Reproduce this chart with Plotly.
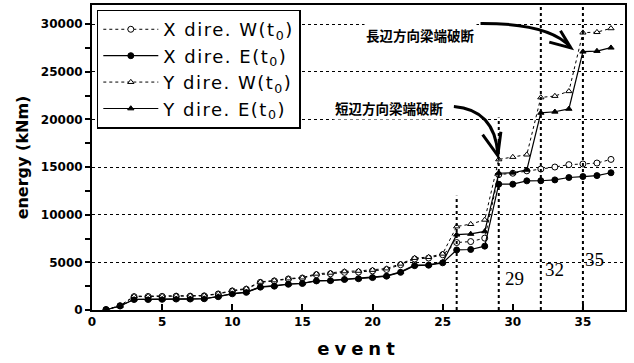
import plotly.graph_objects as go

events = list(range(1, 38))

x_dire_W = [50, 450, 1400, 1420, 1430, 1450, 1450, 1480, 1680, 2000, 2180, 2900, 3050, 3250, 3350,
            3700, 3800, 3950, 3980, 4100, 4250, 4750, 5350, 5450, 5800, 7080, 7180, 7540,
            14200, 14350, 14600, 14790, 15000, 15250, 15320, 15420, 15800]
x_dire_E = [30, 420, 1100, 1100, 1120, 1150, 1150, 1180, 1400, 1700, 1850, 2400, 2500, 2700, 2780,
            3050, 3080, 3200, 3280, 3400, 3550, 3950, 4650, 4700, 4950, 6300, 6350, 6700,
            13200, 13200, 13550, 13560, 13650, 13900, 14000, 14100, 14400]
y_dire_W = [50, 450, 1450, 1450, 1470, 1500, 1500, 1520, 1720, 2050, 2250, 2950, 3100, 3300, 3400,
            3800, 3900, 4050, 4100, 4200, 4350, 4850, 5450, 5550, 5900, 8760, 9010, 9460,
            15800, 16050, 16300, 22300, 22450, 22950, 29100, 29150, 29550]
y_dire_E = [30, 420, 1120, 1130, 1140, 1170, 1170, 1200, 1420, 1720, 1870, 2430, 2550, 2730, 2800,
            3080, 3100, 3230, 3300, 3420, 3580, 4000, 4700, 4750, 5000, 7900, 7980, 8250,
            14350, 14400, 14700, 20680, 20800, 21100, 27100, 27170, 27520]

series_names = ["X dire. W(t<sub>0</sub>)", "X dire. E(t<sub>0</sub>)",
                "Y dire. W(t<sub>0</sub>)", "Y dire. E(t<sub>0</sub>)"]

y_ticks = [0, 5000, 10000, 15000, 20000, 25000, 30000]
y_tick_text = ["0", "5000", "10000", "15000", "20000", "25000", "30000"]
x_ticks = [0, 5, 10, 15, 20, 25, 30, 35]

event_lines = [26, 29, 32, 35]
event_line_tops = [12000, 20200, 32000, 32000]
event_labels = ["29", "32", "35"]
event_label_pos = [(30.15, 3300), (33.0, 4200), (35.85, 5250)]

notes = ["長辺方向梁端破断", "短辺方向梁端破断"]
note_pos = [(23.4, 28900), (21.2, 21200)]

fig = go.Figure()

styles = [
    dict(dash="dot", width=1, symbol="circle", fill="white", size=6),
    dict(dash="solid", width=1.2, symbol="circle", fill="black", size=6),
    dict(dash="dot", width=1, symbol="triangle-up", fill="white", size=5.5),
    dict(dash="solid", width=1.2, symbol="triangle-up", fill="black", size=5.5),
]
data = [x_dire_W, x_dire_E, y_dire_W, y_dire_E]
for name, vals, st in zip(series_names, data, styles):
    fig.add_trace(go.Scatter(
        x=events, y=vals, name="<span style=\"letter-spacing:1.5px\">" + name + "</span>",
        mode="lines+markers",
        line=dict(color="black", width=st["width"], dash=st["dash"]),
        marker=dict(symbol=st["symbol"], size=st["size"], color=st["fill"],
                    line=dict(color="black", width=1)),
    ))

# vertical dotted reference lines
for xv, top in zip(event_lines, event_line_tops):
    fig.add_shape(type="line", x0=xv, x1=xv, y0=0, y1=top, xref="x", yref="y",
                  line=dict(color="black", width=2, dash="dot"), layer="above")

# numbers near the lines
for txt, (xv, yv) in zip(event_labels, event_label_pos):
    fig.add_annotation(x=xv, y=yv, text=txt, showarrow=False, xref="x", yref="y",
                       font=dict(family="Liberation Serif", size=19, color="black"))

# Japanese notes
for txt, (xv, yv) in zip(notes, note_pos):
    fig.add_annotation(x=xv, y=yv, text="<b>" + txt + "</b>", showarrow=False, xref="x", yref="y",
                       font=dict(family="Noto Sans CJK JP", size=13.5, color="black"),
                       bgcolor="white")

# curved arrows
fig.add_shape(type="path", xref="x", yref="y",
              path="M 27.7,30070 Q 32.6,30100 34.1,27600",
              line=dict(color="black", width=3))
fig.add_shape(type="path", xref="x", yref="y",
              path="M 33.4,29300 L 34.14,27500 L 32.6,28100",
              line=dict(color="black", width=3))
fig.add_shape(type="path", xref="x", yref="y",
              path="M 25.8,21350 Q 28.7,21000 28.93,16400",
              line=dict(color="black", width=3))
fig.add_shape(type="path", xref="x", yref="y",
              path="M 27.85,18400 L 28.93,16200 L 29.15,18700",
              line=dict(color="black", width=3))

fig.update_layout(
    width=634, height=363,
    margin=dict(l=92, r=9, t=5, b=53),
    paper_bgcolor="white", plot_bgcolor="white",
    showlegend=True,
    legend=dict(x=0.009, y=0.985, xanchor="left", yanchor="top",
                bgcolor="white", bordercolor="black", borderwidth=1.5,
                font=dict(family="DejaVu Sans", size=18, color="black"),
                tracegroupgap=0, itemwidth=55),
    xaxis=dict(range=[0, 38], tickvals=x_ticks, automargin=False,
               ticks="inside", ticklen=6, tickwidth=2, tickcolor="black",
               showgrid=False, zeroline=False,
               showline=True, linecolor="black", linewidth=2, mirror=True,
               tickfont=dict(family="DejaVu Sans", size=12, color="black", weight="bold"),
               title=dict(text="<span style=\"letter-spacing:5px\">event</span>", standoff=14,
                          font=dict(family="DejaVu Sans", size=18, color="black", weight="bold"))),
    yaxis=dict(range=[0, 32000], tickvals=y_ticks, ticktext=y_tick_text, automargin=False,
               ticks="outside", ticklen=5, tickwidth=2, tickcolor="black",
               minor=dict(dtick=2500, ticks="outside", ticklen=5, tickwidth=2, tickcolor="black", showgrid=False),
               showgrid=True, gridcolor="black", gridwidth=1, griddash="dot",
               zeroline=False,
               showline=True, linecolor="black", linewidth=2, mirror=True,
               tickfont=dict(family="DejaVu Sans", size=12, color="black", weight="bold"),
               title=dict(text="energy (kNm)", standoff=8,
                          font=dict(family="DejaVu Sans", size=16, color="black", weight="bold"))),
)

fig.write_html("out.html", config={"displayModeBar": False},
               post_script="document.body.style.margin='0';")
